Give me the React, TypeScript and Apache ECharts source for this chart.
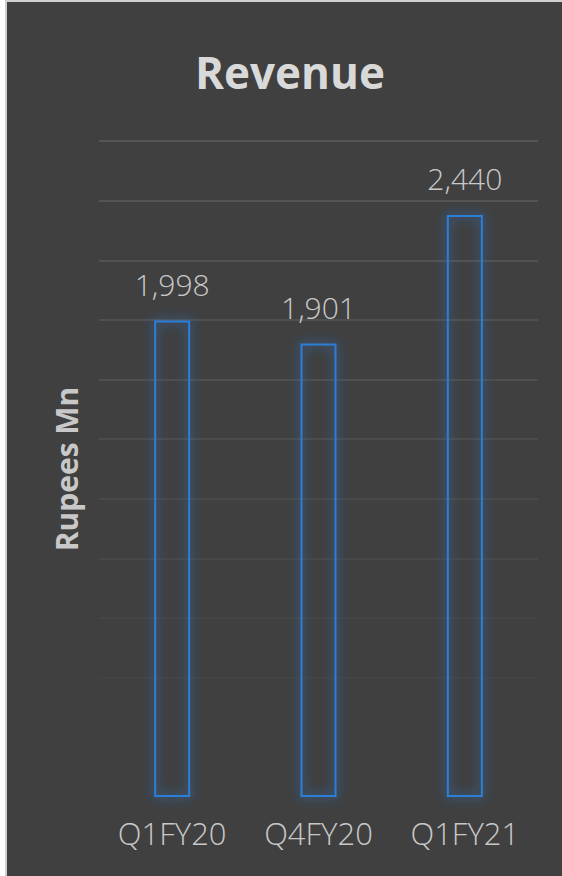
import React, { useEffect, useRef } from "react";
import * as echarts from "echarts";

const categories = ["Q1FY20", "Q4FY20", "Q1FY21"];
const revenue = [1998, 1901, 2440];
const yMin = 0;
const yMax = 2750;
const yInterval = 250;
const gridColors = [
  "#404040", "#404040", "#444444", "#474747", "#4a4a4a", "#4d4d4d",
  "#505050", "#535353", "#565656", "#585858", "#5b5b5b", "#5d5d5d",
];

export default function App() {
  const ref = useRef<HTMLDivElement>(null);
  useEffect(() => {
    if (!ref.current) return;
    const chart = echarts.init(ref.current, null, { renderer: "svg" });
    chart.setOption({
      animation: false,
      backgroundColor: "transparent",
      title: {
        text: "Revenue",
        left: 285,
        textAlign: "center",
        top: 45,
        textStyle: {
          color: "#d9d9d9",
          fontFamily: "Open Sans",
          fontWeight: "bold",
          fontSize: 44,
        },
      },
      grid: { left: 99, right: 24, top: 141, bottom: 79 },
      xAxis: {
        type: "category",
        data: categories,
        axisLine: { show: false },
        axisTick: { show: false },
        axisLabel: {
          color: "#c8c8c8",
          fontFamily: "Open Sans",
          fontWeight: 300,
          fontSize: 31,
          margin: 20,
        },
      },
      yAxis: {
        type: "value",
        min: yMin,
        max: yMax,
        interval: yInterval,
        axisLabel: { show: false },
        axisLine: { show: false },
        axisTick: { show: false },
        splitLine: { show: true, lineStyle: { color: gridColors, width: 1.5 } },
        name: "Rupees Mn",
        nameLocation: "middle",
        nameGap: 18,
        nameTextStyle: {
          color: "#c8c8c8",
          fontFamily: "Open Sans",
          fontWeight: "bold",
          fontSize: 30,
        },
      },
      series: [
        {
          type: "bar",
          data: revenue,
          barWidth: 36,
          itemStyle: {
            color: "rgba(0,0,0,0)",
            borderColor: "#2c7fd8",
            borderWidth: 2,
            shadowBlur: 12,
            shadowColor: "rgba(40,130,240,0.95)",
          },
          label: {
            show: true,
            position: "top",
            distance: 21,
            color: "#c8c8c8",
            fontFamily: "Open Sans",
            fontWeight: 300,
            fontSize: 30,
            formatter: (p: any) => Number(p.value).toLocaleString("en-US"),
          },
        },
      ],
    });
    return () => chart.dispose();
  }, []);
  return (
    <div style={{ position: "fixed", left: 0, top: 0, width: 562, height: 876, background: "#ffffff", overflow: "hidden" }}>
      <div
        style={{
          position: "absolute",
          left: 5,
          top: 0,
          width: 557,
          height: 876,
          boxSizing: "border-box",
          background: "#404040",
          borderTop: "2px solid #d0d0d0",
          borderLeft: "2px solid #d0d0d0",
        }}
      />
      <div ref={ref} style={{ position: "absolute", left: 0, top: 0, width: 562, height: 876 }} />
    </div>
  );
}
